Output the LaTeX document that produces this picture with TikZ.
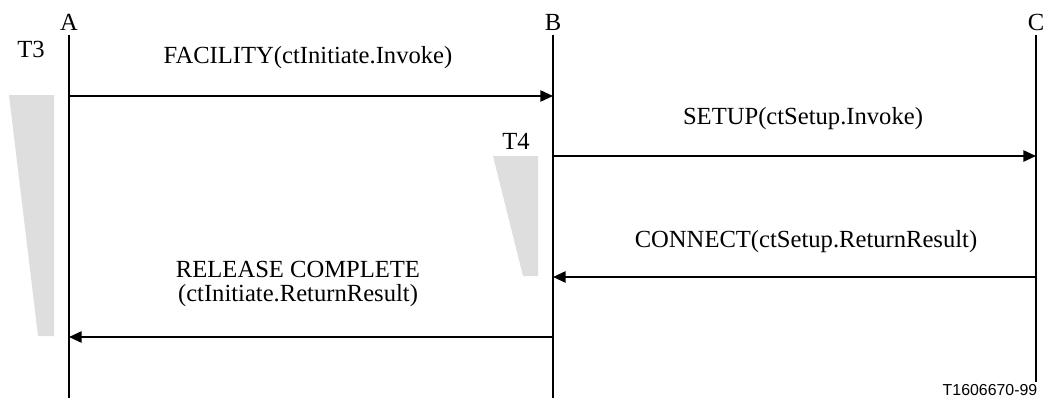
\documentclass[tikz,border=0pt]{standalone}
\usepackage{fontspec}
\setmainfont{Liberation Serif}
\newfontfamily\figfont{Liberation Sans}
\usetikzlibrary{calc}
\usetikzlibrary{arrows.meta}

\begin{document}
\begin{tikzpicture}[x=0.025cm, y=-0.025cm,
  life/.style={black, line width=1.4pt},
  msg/.style={black, line width=1.4pt, -{Triangle[length=9pt, width=8pt]}},
  timer/.style={fill=black!13, draw=none},
  lbl/.style={font=\fontsize{17.5}{17}\selectfont, inner sep=0pt}]
\useasboundingbox (0,0) rectangle (1045,401);
% entities and lifelines
\node[lbl] (A) at (69,22) {A};
\node[lbl] (B) at (553,22) {B};
\node[lbl] (C) at (1036,22) {C};
\coordinate (Atop) at (69,35);  \coordinate (Abot) at (69,398);
\coordinate (Btop) at (553,35); \coordinate (Bbot) at (553,398);
\coordinate (Ctop) at (1036,35); \coordinate (Cbot) at (1036,382);
\draw[life] (Atop)--(Abot);
\draw[life] (Btop)--(Bbot);
\draw[life] (Ctop)--(Cbot);
% timers
\fill[timer] (9,95) --(54,95) --(54,336) --(38,336) --cycle;
\node[lbl] (T3) at (31,49) {T3};
\fill[timer] (493,156) --(538,156) --(538,276) --(523,276) --cycle;
\node[lbl] (T4) at (516,141) {T4};
% messages
\coordinate (a1) at (69,96);   \coordinate (b1) at (553,96);
\coordinate (b2) at (553,156); \coordinate (c2) at (1036,156);
\coordinate (c3) at (1036,277); \coordinate (b3) at (553,277);
\coordinate (b4) at (553,337); \coordinate (a4) at (69,337);
\draw[msg] (a1)--(b1);
\draw[msg] (b2)--(c2);
\draw[msg] (c3)--(b3);
\draw[msg] (b4)--(a4);
\node[lbl] (m1) at (308,58) {FACILITY(ctInitiate.Invoke)};
\node[lbl] (m2) at (803,119) {SETUP(ctSetup.Invoke)};
\node[lbl] (m3) at (806,242) {CONNECT(ctSetup.ReturnResult)};
\node[lbl, align=center] (m4) at (298,284) {RELEASE COMPLETE\\(ctInitiate.ReturnResult)};
\node[font=\figfont\fontsize{11.3}{12}\selectfont, inner sep=0pt] (fig) at (990,390) {T1606670-99};
\end{tikzpicture}
\end{document}
